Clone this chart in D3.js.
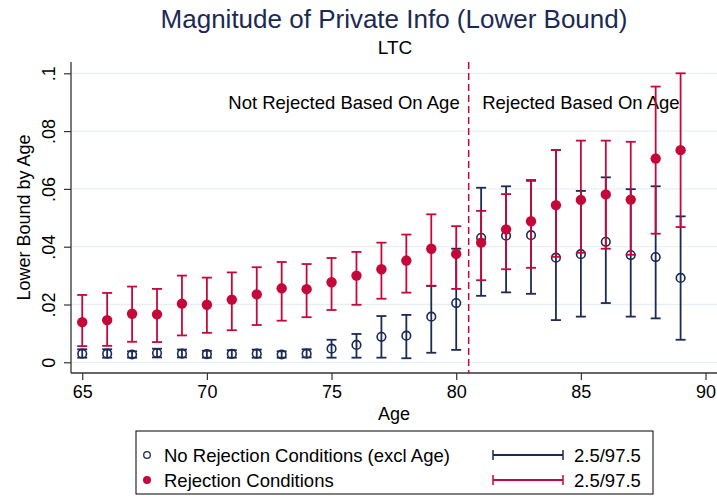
<!DOCTYPE html>
<html>
<head>
<meta charset="utf-8">
<script src="https://cdn.jsdelivr.net/npm/d3@7"></script>
<style>
  body { margin: 0; background: #fff; }
  text { font-family: "Liberation Sans", Arial, Helvetica, sans-serif; }
</style>
</head>
<body>
<div id="chart"></div>
<script>
// ages on the x axis
var ages = [65, 66, 67, 68, 69, 70, 71, 72, 73, 74, 75, 76, 77, 78, 79, 80, 81, 82, 83, 84, 85, 86, 87, 88, 89];

// No Rejection Conditions (excl Age): point + 2.5/97.5 band
var noRejMid = [.0030, .0030, .0027, .0032, .0030, .0028, .0029, .0030, .0027, .0030, .0047, .0060, .0088, .0092, .0158, .0205, .0431, .0438, .0440, .0362, .0374, .0417, .0371, .0364, .0292];
var noRejLo = [.0016, .0016, .0016, .0017, .0017, .0016, .0016, .0016, .0016, .0017, .0016, .0016, .0016, .0014, .0033, .0043, .0230, .0242, .0237, .0146, .0158, .0205, .0158, .0152, .0078];
var noRejHi = [.0045, .0045, .0038, .0047, .0044, .0040, .0042, .0044, .0038, .0045, .0078, .0098, .0160, .0164, .0264, .0393, .0604, .0609, .0628, .0735, .0593, .0640, .0599, .0609, .0505];

// Rejection Conditions
var rejMid = [.0139, .0146, .0168, .0166, .0203, .0199, .0217, .0235, .0256, .0253, .0277, .0300, .0322, .0352, .0393, .0375, .0414, .0460, .0488, .0544, .0562, .0581, .0563, .0705, .0734];
var rejLo = [.0056, .0057, .0071, .0070, .0093, .0102, .0111, .0129, .0144, .0156, .0181, .0199, .0220, .0241, .0265, .0254, .0284, .0322, .0327, .0365, .0379, .0393, .0372, .0445, .0468];
var rejHi = [.0233, .0240, .0262, .0254, .0300, .0293, .0311, .0329, .0347, .0340, .0361, .0382, .0414, .0442, .0512, .0471, .0524, .0582, .0631, .0735, .0767, .0767, .0763, .0954, .1000];

var yTicks = [0, .02, .04, .06, .08, .1];
var yTickLabels = ["0", ".02", ".04", ".06", ".08", ".1"];
var xTicks = [65, 70, 75, 80, 85, 90];
var cutoffAge = 80.5;

var navy = "#1b2a55",
  red = "#c4093a",
  grid = "#e8eff2";

var width = 717,
  height = 501,
  plot = { left: 71, right: 718, top: 62, bottom: 373 };

var svg = d3.select("#chart").append("svg")
  .attr("width", width)
  .attr("height", height);

var x = d3.scaleLinear()
  .domain([64.55, 90.5])
  .range([plot.left, plot.right]);

var y = d3.scaleLinear()
  .domain([0, 0.1])
  .range([362.3, 73.3]);

// titles
svg.append("text")
  .attr("x", 394).attr("y", 28)
  .attr("text-anchor", "middle")
  .style("font-size", "26px")
  .style("fill", navy)
  .text("Magnitude of Private Info (Lower Bound)");

svg.append("text")
  .attr("x", 395).attr("y", 54)
  .attr("text-anchor", "middle")
  .style("font-size", "19px")
  .style("fill", "#000")
  .text("LTC");

// grid lines
svg.selectAll("line.grid")
  .data(yTicks)
  .enter()
  .append("line")
  .attr("class", "grid")
  .attr("x1", plot.left).attr("x2", plot.right)
  .attr("y1", function (d) { return y(d); })
  .attr("y2", function (d) { return y(d); })
  .style("stroke", grid)
  .style("stroke-width", 1.3);

// axes
var yAxis = d3.axisLeft(y)
  .tickValues(yTicks)
  .tickSize(7)
  .tickFormat(function (d, i) { return yTickLabels[i]; });

var gy = svg.append("g")
  .attr("transform", "translate(" + plot.left + ",0)")
  .call(yAxis);
gy.select(".domain").remove();
gy.selectAll(".tick line").style("stroke", "#333").style("stroke-width", 1.2);
gy.selectAll(".tick text")
  .attr("x", null).attr("dy", null)
  .attr("transform", "translate(-16,0) rotate(-90)")
  .attr("text-anchor", "middle")
  .style("font-size", "18px")
  .style("font-family", "Liberation Sans, Arial, sans-serif")
  .style("fill", "#000");

var xAxis = d3.axisBottom(x)
  .tickValues(xTicks)
  .tickSize(7)
  .tickFormat(d3.format("d"));

var gx = svg.append("g")
  .attr("transform", "translate(0," + plot.bottom + ")")
  .call(xAxis);
gx.select(".domain").remove();
gx.selectAll(".tick line").style("stroke", "#333").style("stroke-width", 1.2);
gx.selectAll(".tick text")
  .attr("y", 25).attr("dy", null)
  .style("font-size", "18px")
  .style("font-family", "Liberation Sans, Arial, sans-serif")
  .style("fill", "#000");

svg.append("line")
  .attr("x1", plot.left).attr("x2", plot.left)
  .attr("y1", plot.top).attr("y2", plot.bottom)
  .style("stroke", "#333").style("stroke-width", 1.3);
svg.append("line")
  .attr("x1", plot.left).attr("x2", plot.right)
  .attr("y1", plot.bottom).attr("y2", plot.bottom)
  .style("stroke", "#333").style("stroke-width", 1.3);

// axis titles
svg.append("text")
  .attr("transform", "translate(30," + (plot.top + plot.bottom) / 2 + ") rotate(-90)")
  .attr("text-anchor", "middle")
  .style("font-size", "18px")
  .text("Lower Bound by Age");

svg.append("text")
  .attr("x", 394).attr("y", 420)
  .attr("text-anchor", "middle")
  .style("font-size", "18px")
  .text("Age");

// cutoff line
svg.append("line")
  .attr("x1", x(cutoffAge)).attr("x2", x(cutoffAge))
  .attr("y1", plot.top).attr("y2", plot.bottom)
  .style("stroke", red)
  .style("stroke-width", 1.5)
  .style("stroke-dasharray", "7,4");

// annotations
svg.append("text")
  .attr("x", x(75.5)).attr("y", y(0.09) + 7)
  .attr("text-anchor", "middle")
  .style("font-size", "18.5px")
  .text("Not Rejected Based On Age");
svg.append("text")
  .attr("x", x(85)).attr("y", y(0.09) + 7)
  .attr("text-anchor", "middle")
  .style("font-size", "18.5px")
  .text("Rejected Based On Age");

// error bars with caps
function drawCaps(mid, lo, hi, color) {
  var rows = ages.map(function (a, i) { return { age: a, mid: mid[i], lo: lo[i], hi: hi[i] }; });
  var g = svg.append("g")
    .style("stroke", color)
    .style("stroke-width", 1.8)
    .style("fill", "none");
  var capW = 5;
  rows.forEach(function (d) {
    g.append("line")
      .attr("x1", x(d.age)).attr("x2", x(d.age))
      .attr("y1", y(d.lo)).attr("y2", y(d.hi));
    g.append("line")
      .attr("x1", x(d.age) - capW).attr("x2", x(d.age) + capW)
      .attr("y1", y(d.lo)).attr("y2", y(d.lo));
    g.append("line")
      .attr("x1", x(d.age) - capW).attr("x2", x(d.age) + capW)
      .attr("y1", y(d.hi)).attr("y2", y(d.hi));
  });
  return rows;
}

var blueRows = drawCaps(noRejMid, noRejLo, noRejHi, navy);
svg.selectAll("circle.norej")
  .data(blueRows)
  .enter()
  .append("circle")
  .attr("class", "norej")
  .attr("cx", function (d) { return x(d.age); })
  .attr("cy", function (d) { return y(d.mid); })
  .attr("r", 4.3)
  .style("fill", "none")
  .style("stroke", navy)
  .style("stroke-width", 1.6);

var redRows = drawCaps(rejMid, rejLo, rejHi, red);
svg.selectAll("circle.rej")
  .data(redRows)
  .enter()
  .append("circle")
  .attr("class", "rej")
  .attr("cx", function (d) { return x(d.age); })
  .attr("cy", function (d) { return y(d.mid); })
  .attr("r", 5.2)
  .style("fill", red);

// legend
var legend = svg.append("g");
legend.append("rect")
  .attr("x", 136).attr("y", 431)
  .attr("width", 517).attr("height", 63)
  .style("fill", "#fff")
  .style("stroke", "#000")
  .style("stroke-width", 1);

var legendItems = [
  { label: "No Rejection Conditions (excl Age)", color: navy, filled: false },
  { label: "Rejection Conditions", color: red, filled: true }
];

legendItems.forEach(function (d, i) {
  var cy = 455 + i * 25;
  legend.append("circle")
    .attr("cx", 147).attr("cy", cy)
    .attr("r", d.filled ? 4 : 3.3)
    .style("fill", d.filled ? d.color : "none")
    .style("stroke", d.color)
    .style("stroke-width", d.filled ? 0 : 1.3);
  legend.append("text")
    .attr("x", 164).attr("y", cy + 6.5)
    .style("font-size", "18.5px")
    .text(d.label);
  legend.append("line")
    .attr("x1", 493).attr("x2", 563)
    .attr("y1", cy).attr("y2", cy)
    .style("stroke", d.color).style("stroke-width", 1.8);
  [493, 563].forEach(function (lx) {
    legend.append("line")
      .attr("x1", lx).attr("x2", lx)
      .attr("y1", cy - 5).attr("y2", cy + 5)
      .style("stroke", d.color).style("stroke-width", 1.5);
  });
  legend.append("text")
    .attr("x", 574).attr("y", cy + 6.5)
    .style("font-size", "18.5px")
    .text("2.5/97.5");
});
</script>
</body>
</html>
